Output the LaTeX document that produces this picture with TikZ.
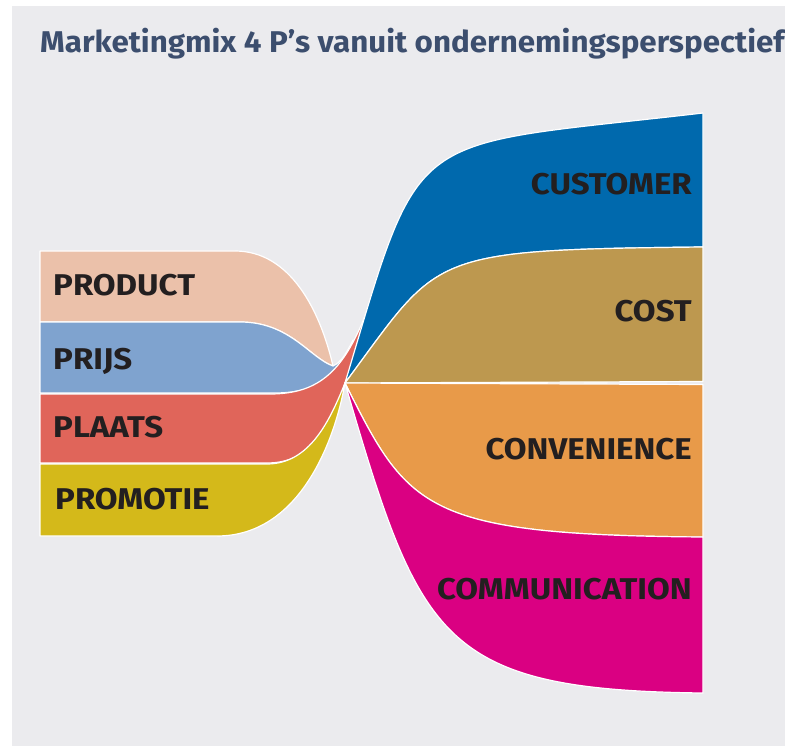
\documentclass[tikz,border=0pt]{standalone}
\usepackage{fontspec}
\setmainfont{Fira Sans}
\newfontfamily\titlefont[FakeStretch=1.045]{Fira Sans}
\newfontfamily\bandfont[FakeStretch=1.1]{Fira Sans}
\usetikzlibrary{positioning}

\definecolor{pagegrey}{HTML}{EBEBEE}
\definecolor{titleblue}{HTML}{3C4E6E}
\definecolor{labelink}{HTML}{231F20}
\definecolor{productcol}{HTML}{EBC1AA}
\definecolor{prijscol}{HTML}{7FA3CF}
\definecolor{plaatscol}{HTML}{E0655A}
\definecolor{promotiecol}{HTML}{D4B91A}
\definecolor{customercol}{HTML}{0069AD}
\definecolor{costcol}{HTML}{BD984F}
\definecolor{conveniencecol}{HTML}{E89A49}
\definecolor{communicationcol}{HTML}{DA0082}

\begin{document}
\begin{tikzpicture}[
            x=1pt,y=-1pt,
            band/.style={draw=white, line width=1.2pt, line join=round},
            plabel/.style={anchor=base west, inner sep=0pt, text=labelink, font=\bandfont\bfseries\fontsize{30}{36}\selectfont},
            clabel/.style={plabel, anchor=base east},
            ]
            % Background
            \useasboundingbox (0,0) rectangle (785,746);
            \fill[white] (0,0) rectangle (785,746);
            \fill[pagegrey] (12,6) rectangle (785,746);
            \coordinate (hub) at (345,383);
            
            % Title
            \node[anchor=base west, inner sep=0pt, text=titleblue, font=\titlefont\bfseries\fontsize{30}{36}\selectfont] (title) at (40,53) {Marketingmix 4 P’s vanuit ondernemingsperspectief};
            
            % 4 P's
            \fill[productcol, band] (40,251) -- (235,251) .. controls (290,251) and (320,310) .. (333,366) .. controls (310,358) and (290,322) .. (240,322) -- (40,322) -- cycle;
            \fill[prijscol, band] (40,322) -- (240,322) .. controls (290,322) and (310,358) .. (333,366) .. controls (342,362) and (348,350) .. (353,340) .. controls (348,362) and (330,393) .. (275,393) -- (40,393) -- cycle;
            \fill[plaatscol, band] (40,394) -- (270,394) .. controls (320,394) and (345,370) .. (368,308) .. controls (362,330) and (355,360) .. (hub) .. controls (330,430) and (310,463) .. (267,463) -- (40,463) -- cycle;
            \fill[promotiecol, band] (40,464) -- (267,464) .. controls (310,464) and (330,420) .. (hub) .. controls (335,440) and (300,536) .. (217,536) -- (40,536) -- cycle;
            
            % 4 C's
            \fill[customercol, band] (hub) .. controls (423,122) and (403,148) .. (703,113) -- (703,247) .. controls (423,250) and (441,254) .. (hub) -- cycle;
            \fill[costcol, band] (hub) .. controls (441,254) and (423,250) .. (703,247) -- (703,381.5) -- cycle;
            \fill[conveniencecol, band] (hub) -- (703,384.5) -- (703,537) .. controls (423,535) and (408,509) .. (hub) -- cycle;
            \fill[communicationcol, band] (hub) .. controls (408,509) and (423,535) .. (703,537) -- (703,693) .. controls (440,690) and (420,640) .. (hub) -- cycle;
            
            % Labels
            \node[plabel] (product) at (53,296) {PRODUCT};
            \node[plabel] (prijs) at (53,369) {PRIJS};
            \node[plabel] (plaats) at (53,437) {PLAATS};
            \node[plabel] (promotie) at (55,509) {PROMOTIE};
            
            \node[clabel] (customer) at (692,195) {CUSTOMER};
            \node[clabel] (cost) at (692,322) {COST};
            \node[clabel] (convenience) at (692,459) {CONVENIENCE};
            \node[clabel] (communication) at (692,599) {COMMUNICATION};
        \end{tikzpicture}
\end{document}
